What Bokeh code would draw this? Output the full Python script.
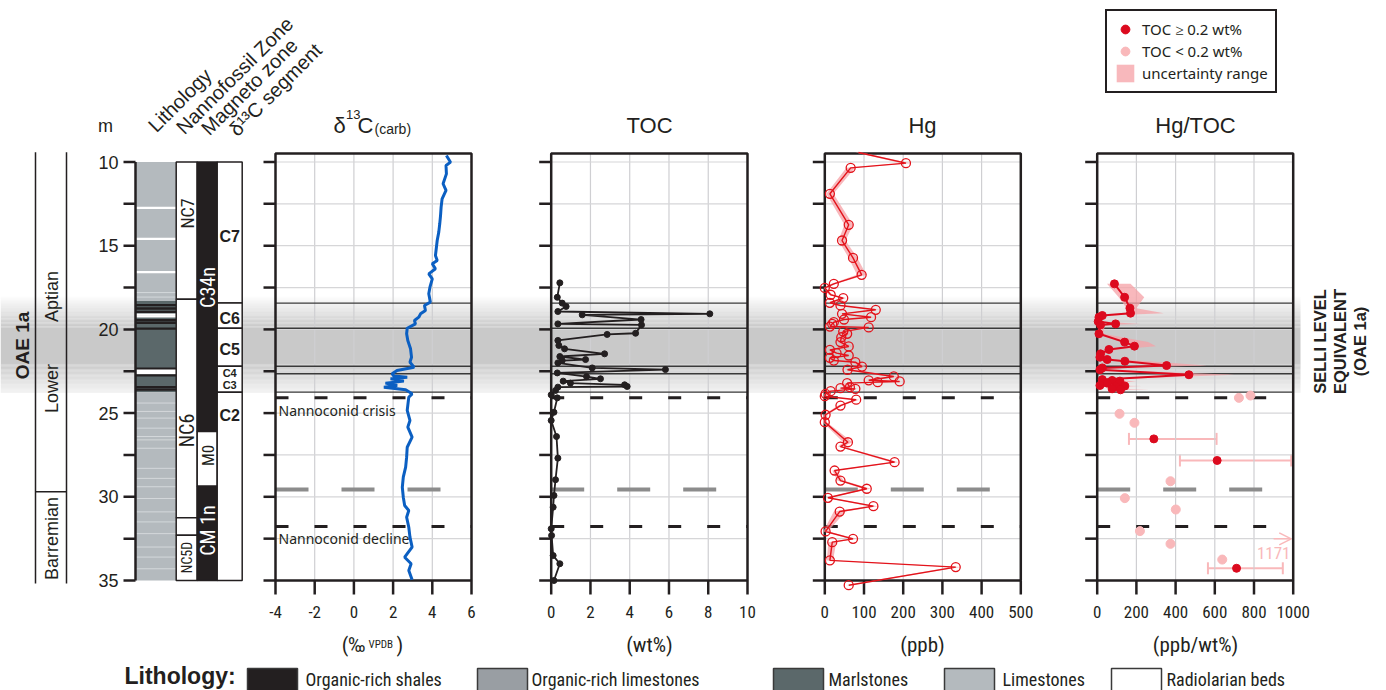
import numpy as np
from bokeh.plotting import figure
from bokeh.models import (Range1d, ColumnDataSource, Legend, LegendItem,
                          Whisker, TeeHead, Arrow, OpenHead)
from bokeh.core.properties import value
from bokeh.embed import file_html
from bokeh.resources import INLINE

# ============================ DATA ============================
depth_major = [10, 15, 20, 25, 30, 35]
depth_minor = [12.5, 17.5, 22.5, 27.5, 32.5]

d13c_ticks = [-4, -2, 0, 2, 4, 6]
toc_ticks = [0, 2, 4, 6, 8, 10]
hg_ticks = [0, 100, 200, 300, 400, 500]
hgtoc_ticks = [0, 200, 400, 600, 800, 1000]

# delta13C carb (per mil VPDB) vs depth (m)
d13c_depth = [9.61, 10.01, 10.21, 10.71, 11.30, 11.70, 12.20, 12.70, 13.20, 13.69,
              14.19, 14.69, 15.09, 15.59, 15.88, 16.08, 16.38, 16.68, 16.98, 17.48,
              17.87, 18.37, 18.57, 18.87, 19.07, 19.27, 19.47, 19.67, 19.93, 20.26,
              20.66, 21.16, 21.66, 21.96, 22.26, 22.45, 22.65, 22.78, 22.86, 22.95,
              23.09, 23.21, 23.35, 23.45, 23.61, 23.85, 24.05, 24.84, 25.44, 25.84,
              26.44, 27.04, 27.63, 28.23, 28.83, 29.43, 30.02, 30.52, 30.82, 31.22,
              31.82, 32.41, 33.01, 33.61, 34.00, 34.40, 34.96]
d13c_value = [4.72, 4.93, 4.70, 4.72, 4.55, 4.70, 4.50, 4.45, 4.42, 4.38,
              4.33, 4.25, 4.21, 4.16, 4.25, 4.00, 4.16, 3.82, 4.00, 3.88,
              3.82, 3.90, 3.60, 3.65, 3.40, 3.31, 3.09, 3.14, 2.72, 2.69,
              2.75, 2.89, 2.94, 2.86, 3.07, 2.20, 1.95, 2.04, 2.72, 1.87,
              2.55, 1.61, 2.21, 1.53, 2.64, 2.97, 2.80, 2.72, 2.86, 2.75,
              2.97, 2.72, 2.69, 2.64, 2.52, 2.47, 2.52, 2.59, 2.80, 2.69,
              2.80, 2.86, 2.97, 2.59, 2.92, 2.80, 2.97]

# TOC (wt%)
toc_depth = [17.22, 18.08, 18.43, 18.63, 18.93, 19.07, 19.13, 19.41, 19.67, 19.73,
             20.23, 20.30, 20.66, 20.96, 21.16, 21.46, 21.62, 21.80, 21.86, 22.00,
             22.30, 22.40, 22.60, 22.82, 22.95, 23.09, 23.21, 23.31, 23.41, 23.45,
             23.65, 23.91, 24.09, 24.95, 25.44, 26.40, 27.69, 28.98, 29.92, 30.62,
             31.91, 32.31, 33.51, 34.00, 35.00]
toc_value = [0.44, 0.31, 0.56, 0.76, 0.34, 8.08, 1.58, 4.58, 0.34, 4.60,
             4.30, 2.85, 0.34, 0.39, 0.68, 2.72, 0.44, 1.75, 0.56, 0.34,
             2.09, 5.82, 0.31, 1.80, 2.51, 0.61, 0.98, 3.74, 3.87, 0.34,
             0.22, 0.00, 0.31, 0.14, 0.00, 0.27, 0.34, 0.22, 0.14, 0.10,
             0.00, 0.02, 0.10, 0.44, 0.14]

# Hg (ppb) with uncertainty half-width
hg_depth = [9.43, 10.07, 10.35, 11.90, 13.75, 14.69, 15.73, 16.74, 17.28, 17.52,
            17.93, 18.13, 18.41, 18.57, 18.83, 19.07, 19.27, 19.41, 19.57, 19.67,
            19.83, 19.88, 20.13, 20.26, 20.47, 20.76, 21.02, 21.22, 21.42, 21.56,
            21.70, 21.86, 21.96, 22.22, 22.41, 22.81, 23.04, 23.11, 23.15, 23.21,
            23.45, 23.51, 23.55, 23.69, 23.85, 23.99, 24.20, 24.55, 25.10, 25.54,
            26.74, 27.00, 27.93, 28.43, 29.03, 29.52, 30.06, 30.56, 30.88, 32.07,
            32.51, 32.71, 33.80, 34.20, 35.28]
hg_value = [86, 207, 66, 13, 61, 44, 72, 94, 23, 0,
            15, 47, 13, 40, 130, 44, 118, 49, 23, 19,
            13, 112, 47, 57, 42, 40, 61, 13, 30, 61,
            13, 23, 78, 95, 58, 176, 112, 191, 135, 57,
            64, 40, 78, 15, 2, 0, 80, 40, 2, 0,
            59, 40, 178, 25, 40, 107, 8, 124, 38, 2,
            72, 19, 13, 334, 61]
hg_unc = [8, 12, 11, 9, 11, 9, 11, 12, 6, 3,
          5, 8, 5, 6, 10, 6, 10, 6, 5, 5,
          5, 10, 8, 10, 8, 8, 10, 5, 6, 8,
          5, 5, 8, 10, 8, 12, 10, 12, 10, 8,
          8, 6, 8, 5, 3, 3, 8, 6, 5, 5,
          12, 6, 10, 6, 8, 10, 4, 12, 15, 6,
          9, 10, 8, 12, 6]

# Hg/TOC (ppb/wt%) - samples with TOC >= 0.2 wt% (connected)
hgtoc_depth = [17.28, 18.08, 18.73, 19.03, 19.17, 19.27, 19.53, 19.67, 19.73, 20.26,
               20.76, 21.00, 21.20, 21.46, 21.66, 21.80, 21.90, 22.16, 22.30, 22.41,
               22.71, 23.00, 23.05, 23.09, 23.21, 23.35, 23.38, 23.41, 23.55, 23.61]
hgtoc_value = [88, 140, 167, 170, 26, 9, 5, 94, 17, 9,
               140, 190, 60, 17, 14, 51, 141, 354, 26, 14,
               468, 26, 76, 116, 51, 14, 141, 94, 76, 119]
hgtoc_lo = [50, 110, 150, 160, 20, 5, 0, 80, 10, 5,
            120, 170, 50, 10, 10, 45, 130, 330, 20, 10,
            440, 20, 70, 105, 45, 10, 130, 85, 70, 110]
hgtoc_hi = [170, 240, 200, 340, 60, 30, 20, 220, 40, 30,
            260, 300, 100, 40, 40, 90, 260, 560, 50, 40,
            700, 50, 120, 200, 90, 40, 230, 150, 120, 265]
# isolated TOC >= 0.2 wt% samples with uncertainty bars
hgtoc_iso_depth = [26.54, 27.83, 34.27]
hgtoc_iso_value = [289, 612, 711]
hgtoc_iso_lo = [162, 422, 565]
hgtoc_iso_hi = [609, 990, 947]
# TOC < 0.2 wt% samples
hgtoc_low_depth = [23.95, 24.09, 25.04, 25.58, 29.07, 30.08, 30.76, 32.05, 32.81, 33.75]
hgtoc_low_value = [782, 723, 114, 190, 374, 141, 401, 218, 374, 638]
# off-scale sample
offscale_depth = [32.51]
offscale_value = [1171]

# events / markers
event_depth = [18.43, 19.93, 22.20, 22.65, 23.75]
crisis_depth = 24.09
grey_marker_depth = 29.56
decline_depth = 31.77

# lithology
litho_top = [10.0, 18.3, 23.75]
litho_base = [18.3, 23.75, 35.0]
litho_kind = ["Limestones", "Marlstones", "Limestones"]
bed_depth = [12.74, 14.59, 16.58, 18.55, 18.75, 18.95, 19.12, 19.22, 19.45, 19.60,
             19.95, 22.35, 22.47, 22.62, 22.75, 23.45, 23.60]
bed_kind = ["Radiolarian beds", "Radiolarian beds", "Radiolarian beds",
            "Organic-rich shales", "Organic-rich shales", "Organic-rich shales",
            "Radiolarian beds", "Radiolarian beds",
            "Organic-rich shales", "Organic-rich shales", "Organic-rich shales",
            "Organic-rich shales", "Radiolarian beds", "Radiolarian beds",
            "Organic-rich shales", "Organic-rich shales", "Organic-rich shales"]
bedding_depth = [17.80, 18.07, 24.40, 24.90, 25.30, 25.90, 26.40, 26.60, 27.10, 28.30,
                 28.90, 29.40, 30.10, 30.90, 31.50, 32.20, 33.00, 33.60, 34.30]

litho_legend = ["Organic-rich shales", "Organic-rich limestones", "Marlstones",
                "Limestones", "Radiolarian beds"]
litho_colors = {"Organic-rich shales": "#231f20", "Organic-rich limestones": "#999ea3",
                "Marlstones": "#5b686a", "Limestones": "#b4babe",
                "Radiolarian beds": "#ffffff"}

# zones
nanno_top = [10.0, 18.2, 31.25, 32.3]
nanno_base = [18.2, 31.25, 32.3, 35.0]
nanno_label = ["NC7", "NC6", "", "NC5D"]
magneto_top = [10.0, 26.1, 29.37]
magneto_base = [26.1, 29.37, 35.0]
magneto_label = ["C34n", "M0", "CM 1n"]
magneto_normal = [True, False, True]
seg_top = [10.0, 18.43, 19.93, 22.2, 23.75]
seg_base = [18.43, 19.93, 22.2, 23.75, 35.0]
seg_label = ["C7", "C6", "C5", "C4\nC3", "C2"]
aptian_barremian_boundary = 29.7

# ============================ CANVAS ============================
W, H = 1386, 690
Y10, PXM = 161.5, 16.74


def dep(py):
    return 10 + (py - Y10) / PXM


def cx(px):
    return px


INK = "#231f20"
SANS = "Liberation Sans"
COND = "'Roboto Condensed', 'DejaVu Sans Condensed', 'Liberation Sans'"
HUMAN = "Noto Sans"
RED = "#e3131b"
DARKRED = "#dc0a1e"
PINK = "#f9b8ba"
PINKBAND = "#f5a0a6"

p = figure(width=W, height=H, x_range=Range1d(0, W),
           y_range=Range1d(dep(H), dep(0)),
           x_axis_location=None, y_axis_location=None,
           output_backend="svg", toolbar_location=None, min_border=0)
p.xgrid.visible = False
p.ygrid.visible = False
p.outline_line_color = None
p.background_fill_color = "white"

PANELS = [("d13c", 275.0, 471.0, -4, 6, d13c_ticks),
          ("toc", 550.7, 747.0, 0, 10, toc_ticks),
          ("hg", 824.3, 1020.3, 0, 500, hg_ticks),
          ("hgtoc", 1096.7, 1292.7, 0, 1000, hgtoc_ticks)]
extra = {}
for name, L, R, lo, hi, ticks in PANELS:
    fl, fr = cx(L), cx(R)
    k = (hi - lo) / (fr - fl)
    extra[name] = Range1d(lo - fl * k, lo + (W - fl) * k)
p.extra_x_ranges = extra


def put(x, y, s, size, font=SANS, color=INK, align="center", baseline="middle",
        angle=0.0, style="normal", xr="default"):
    p.text(x=[x], y=[y], text=[s], x_range_name=xr, text_font=value(font),
           text_font_size=f"{size}px", text_color=color, text_align=align,
           text_baseline=baseline, angle=angle, text_font_style=style)


# ---------------- OAE band (soft-edged) ----------------
n = 24
band_right = cx(1300)
e1 = np.linspace(18.0, 19.9, n + 1)
a1 = [(i + 0.5) / n for i in range(n)]
e2 = np.linspace(22.0, 23.8, n + 1)
a2 = [1 - 0.8 * (i + 0.5) / n for i in range(n)]
p.quad(left=0, right=band_right, top=list(e1[:-1]) + list(e2[:-1]) + [19.9],
       bottom=list(e1[1:]) + list(e2[1:]) + [22.0],
       fill_color="#c9c9c9", fill_alpha=a1 + a2 + [1.0], line_color=None)

# ---------------- stage column ----------------
p.segment(x0=[cx(35), cx(66)], x1=[cx(35), cx(66)], y0=[dep(151.7)] * 2,
          y1=[dep(583)] * 2, line_color=INK, line_width=1.5)
p.segment(x0=[cx(35)], x1=[cx(66)], y0=[aptian_barremian_boundary],
          y1=[aptian_barremian_boundary], line_color=INK, line_width=1.5)
put(cx(51), dep(296), "Aptian", 18, angle=np.pi / 2)
put(cx(51), dep(388), "Lower", 18, angle=np.pi / 2)
put(cx(51), dep(538), "Barremian", 18, angle=np.pi / 2)
put(cx(22), dep(345), "OAE 1a", 19, angle=np.pi / 2, style="bold")

# ---------------- lithology column ----------------
LL, LR = cx(135), cx(175.7)
p.quad(left=LL, right=LR, top=litho_top, bottom=litho_base,
       fill_color=[litho_colors[k] for k in litho_kind], line_color=None)
p.segment(x0=LL, x1=LR, y0=bedding_depth, y1=bedding_depth,
          line_color="#d4d8db", line_width=1)
p.quad(left=LL, right=LR, top=[d - 0.07 for d in bed_depth],
       bottom=[d + 0.07 for d in bed_depth],
       fill_color=[litho_colors[k] for k in bed_kind], line_color=None)

# depth axis
p.segment(x0=cx(135), x1=cx(135), y0=10, y1=35, line_color=INK, line_width=2.5)
allt = depth_major + depth_minor
p.segment(x0=cx(123), x1=cx(135), y0=allt, y1=allt, line_color=INK, line_width=2.5)
p.text(x=cx(118), y=depth_major, text=[str(d) for d in depth_major],
       text_font=value(SANS), text_font_size="18px", text_color=INK,
       text_align="right", text_baseline="middle")
put(cx(105), dep(125), "m", 18)

# ---------------- zone columns ----------------
NL, NR = cx(175.7), cx(196.7)
ML, MR = cx(196.7), cx(216.7)
SL, SR = cx(216.7), cx(241.7)
p.quad(left=NL, right=NR, top=nanno_top, bottom=nanno_base, fill_color="white",
       line_color=INK, line_width=1.5)
p.quad(left=ML, right=MR, top=magneto_top, bottom=magneto_base,
       fill_color=[INK if m else "white" for m in magneto_normal],
       line_color=INK, line_width=1.5)
p.quad(left=SL, right=SR, top=seg_top, bottom=seg_base, fill_color="white",
       line_color=INK, line_width=1.5)

nanno_label_y = [dep(213), dep(430), None, dep(557)]
nanno_label_size = [18, 20, 0, 14]
for lab, yy, sz in zip(nanno_label, nanno_label_y, nanno_label_size):
    if lab:
        put((NL + NR) / 2 + 0.5, yy, lab, sz, font=COND, angle=np.pi / 2)
mag_label_y = [dep(287), dep(455), dep(530)]
for lab, yy, nrm in zip(magneto_label, mag_label_y, magneto_normal):
    put((ML + MR) / 2 + 0.5, yy, lab, 20 if lab != "M0" else 17, font=COND,
        color="white" if nrm else INK, angle=np.pi / 2)
seg_label_y = [dep(236), dep(318), dep(349), None, dep(415)]
for lab, yy in zip(seg_label, seg_label_y):
    if "\n" in lab:
        a, b = lab.split("\n")
        put((SL + SR) / 2, dep(372), a, 11, style="bold")
        put((SL + SR) / 2, dep(384), b, 11, style="bold")
    else:
        put((SL + SR) / 2, yy, lab, 16, style="bold")

# rotated column headers
hdr = [("Lithology", 151, 128), ("Nannofossil Zone", 179, 130),
       ("Magneto zone", 204, 131), ("\u03b4\u00b9\u00b3C segment", 232, 132)]
for s, hx, hy in hdr:
    put(cx(hx), dep(hy), s, 20, align="left", baseline="alphabetic", angle=np.pi / 4)

# ---------------- panels ----------------
PTOP = dep(153)
grid_depths = [10, 12.5, 15, 17.5, 20, 22.5, 25, 27.5, 30, 32.5]
for name, L, R, lo, hi, ticks in PANELS:
    p.segment(x0=ticks[1:-1], x1=ticks[1:-1], y0=PTOP, y1=35, x_range_name=name,
              line_color="#cfcfd2", line_width=1.2)
    p.segment(x0=lo, x1=hi, y0=grid_depths, y1=grid_depths, x_range_name=name,
              line_color="#d6d6d8", line_width=1.2)
    p.segment(x0=lo, x1=hi, y0=event_depth, y1=event_depth, x_range_name=name,
              line_color="#3a3a3a", line_width=1.3)
    p.segment(x0=lo, x1=hi, y0=[crisis_depth, decline_depth],
              y1=[crisis_depth, decline_depth], x_range_name=name,
              line_color=INK, line_width=3, line_dash="13 26")
    p.segment(x0=lo, x1=hi, y0=grey_marker_depth, y1=grey_marker_depth,
              x_range_name=name, line_color="#8c8c8c", line_width=4,
              line_dash="33 33")
    p.quad(left=lo, right=hi, top=PTOP, bottom=35, x_range_name=name,
           fill_color=None, line_color=INK, line_width=2.5)
    p.segment(x0=cx(L - 12), x1=cx(L), y0=allt, y1=allt, line_color=INK,
              line_width=2.5)
    p.segment(x0=ticks, x1=ticks, y0=35, y1=dep(594), x_range_name=name,
              line_color=INK, line_width=2.5)
    p.text(x=ticks, y=dep(611), text=[str(t) for t in ticks], x_range_name=name,
           text_font=value(COND), text_font_size="17px", text_color=INK,
           text_align="center", text_baseline="middle")

put(cx(278), dep(410), "Nannoconid crisis", 14, font=HUMAN, align="left")
put(cx(278), dep(538), "Nannoconid decline", 14, font=HUMAN, align="left")

# titles
put(cx(333), dep(125), "\u03b4", 22, align="left", baseline="alphabetic")
put(cx(345.5), dep(114), "13", 13, align="left", baseline="alphabetic")
put(cx(357), dep(125), "C", 22, align="left", baseline="alphabetic")
put(cx(374), dep(128), "(carb)", 14, align="left", baseline="alphabetic")
put(cx(649), dep(125), "TOC", 22, baseline="alphabetic")
put(cx(922), dep(125), "Hg", 22, baseline="alphabetic")
put(cx(1195), dep(125), "Hg/TOC", 22, baseline="alphabetic")

# units
put(cx(365), dep(644), "(\u2030", 21, font=COND, align="right", baseline="alphabetic")
put(cx(368), dep(644), "VPDB", 11, font=COND, align="left", baseline="alphabetic")
put(cx(396), dep(644), ")", 21, font=COND, align="left", baseline="alphabetic")
put(cx(649), dep(644), "(wt%)", 21, font=COND, baseline="alphabetic")
put(cx(922), dep(644), "(ppb)", 21, font=COND, baseline="alphabetic")
put(cx(1195), dep(644), "(ppb/wt%)", 21, font=COND, baseline="alphabetic")

# ---------------- data: d13C ----------------
p.line(x=d13c_value, y=d13c_depth, x_range_name="d13c", line_color="#0b5fc2",
       line_width=3)

# ---------------- data: TOC ----------------
p.line(x=toc_value, y=toc_depth, x_range_name="toc", line_color=INK, line_width=1.8)
p.scatter(x=toc_value, y=toc_depth, x_range_name="toc", size=6, fill_color=INK,
          line_color=INK)

# ---------------- data: Hg ----------------
hg_lo = [v - u for v, u in zip(hg_value, hg_unc)]
hg_hi = [v + u for v, u in zip(hg_value, hg_unc)]
p.harea(x1=hg_lo, x2=hg_hi, y=hg_depth, x_range_name="hg", fill_color=PINKBAND,
        fill_alpha=0.75)
p.line(x=hg_value, y=hg_depth, x_range_name="hg", line_color=RED, line_width=1.4)
p.scatter(x=hg_value[1:], y=hg_depth[1:], x_range_name="hg", size=9,
          fill_color=None, line_color=RED, line_width=1.3)

# ---------------- data: Hg/TOC ----------------
r_unc = p.harea(x1=hgtoc_lo, x2=hgtoc_hi, y=hgtoc_depth, x_range_name="hgtoc",
                fill_color=PINKBAND, fill_alpha=0.75)
iso = ColumnDataSource(dict(depth=hgtoc_iso_depth, value=hgtoc_iso_value,
                            lo=hgtoc_iso_lo, hi=hgtoc_iso_hi))
p.add_layout(Whisker(source=iso, base="depth", lower="lo", upper="hi",
                     dimension="width", x_range_name="hgtoc", line_color=PINK,
                     line_width=2,
                     upper_head=TeeHead(size=12, line_color=PINK, line_width=2),
                     lower_head=TeeHead(size=12, line_color=PINK, line_width=2)))
p.line(x=hgtoc_value, y=hgtoc_depth, x_range_name="hgtoc", line_color=DARKRED,
       line_width=2)
r_dark = p.scatter(x=hgtoc_value, y=hgtoc_depth, x_range_name="hgtoc", size=8,
                   fill_color=DARKRED, line_color=DARKRED)
p.scatter(x="value", y="depth", source=iso, x_range_name="hgtoc", size=8,
          fill_color=DARKRED, line_color=DARKRED)
r_light = p.scatter(x=hgtoc_low_value, y=hgtoc_low_depth, x_range_name="hgtoc",
                    size=9, fill_color=PINK, line_color=PINK)
for d, v in zip(offscale_depth, offscale_value):
    p.add_layout(Arrow(x_start=900, y_start=d, x_end=min(v, 990), y_end=d,
                       x_range_name="hgtoc", line_color=PINK, line_width=1.5,
                       end=OpenHead(size=12, line_color=PINK, line_width=1.5)))
    put(cx(1290), dep(552), str(v), 17, font=COND, color=PINK, align="right")

legend = Legend(items=[LegendItem(label="TOC \u2265 0.2 wt%", renderers=[r_dark]),
                       LegendItem(label="TOC < 0.2 wt%", renderers=[r_light]),
                       LegendItem(label="uncertainty range", renderers=[r_unc])],
                location=(cx(1105), H - 93), padding=7, spacing=0,
                glyph_width=22, glyph_height=22, label_height=22,
                label_standoff=6, margin=0, border_line_color=INK,
                border_line_alpha=1.0, border_line_width=2,
                label_text_font=HUMAN, label_text_font_size="15px",
                label_text_color=INK, background_fill_alpha=1.0)
p.add_layout(legend, "center")

# ---------------- right annotation ----------------
put(cx(1319), dep(341), "SELLI LEVEL", 16.5, style="bold", angle=np.pi / 2)
put(cx(1339), dep(341), "EQUIVALENT", 16.5, style="bold", angle=np.pi / 2)
put(cx(1359), dep(341), "(OAE 1a)", 16.5, style="bold", angle=np.pi / 2)

# ---------------- lithology legend ----------------
sw_left = [247, 477, 773, 944, 1111]
lab_left = [305, 531, 828, 1002, 1166]
SWT, SWB = dep(668), dep(692)
p.quad(left=[cx(x) for x in sw_left], right=[cx(x + 50) for x in sw_left],
       top=SWT, bottom=SWB, fill_color=[litho_colors[k] for k in litho_legend],
       line_color="#3a3a3a", line_width=1.5)
p.text(x=[cx(x) for x in lab_left], y=dep(679), text=litho_legend,
       text_font=value(COND), text_font_size="18px", text_color=INK,
       text_align="left", text_baseline="middle")
put(cx(124), dep(675), "Lithology:", 23, style="bold", align="left")

open("out.html", "w").write(file_html(p, INLINE))
